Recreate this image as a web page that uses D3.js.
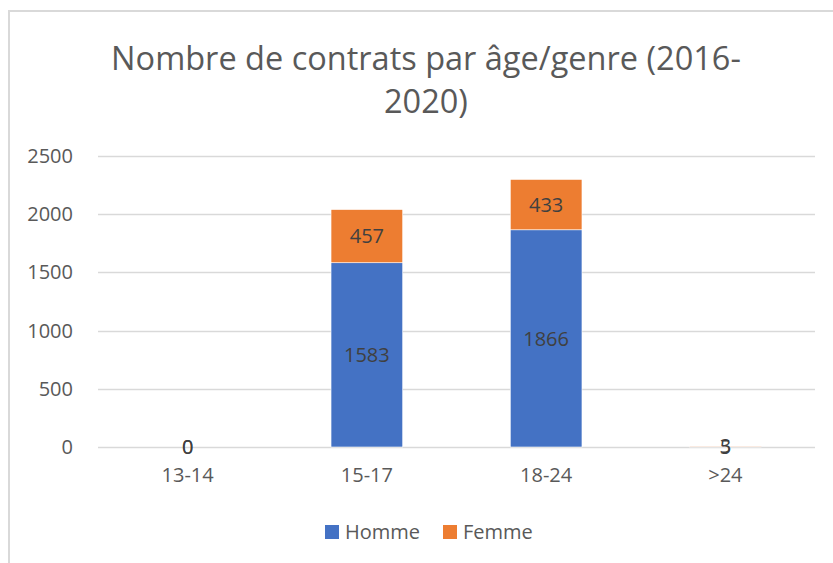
<!DOCTYPE html>
<html>
<head>
    <title>Nombre de contrats par âge/genre</title>
    <script src="https://cdnjs.cloudflare.com/ajax/libs/d3/7.8.5/d3.min.js"></script>
    <style>
        body { margin: 0; background: #fff; }
        svg { display: block; font-family: "Open Sans", sans-serif; }
    </style>
</head>
<body>
    <div id="chart"></div>

    <script>
        // Data
        const categories = ['13-14', '15-17', '18-24', '>24'];
        const homme = [0, 1583, 1866, 5];
        const femme = [0, 457, 433, 3];
        const yTicks = [0, 500, 1000, 1500, 2000, 2500];
        const seriesNames = ['Homme', 'Femme'];
        const colors = ['#4472C4', '#ED7D31'];

        const width = 833;
        const height = 563;
        const margin = {top: 156, right: 18, bottom: 116, left: 98};
        const fontSize = '20px';

        const svg = d3.select('#chart')
            .append('svg')
            .attr('width', width)
            .attr('height', height);

        // chart frame
        svg.append('rect')
            .attr('x', 9).attr('y', 11)
            .attr('width', width + 10).attr('height', height + 10)
            .attr('fill', '#fff')
            .attr('stroke', '#d9d9d9')
            .attr('stroke-width', 2);

        // title
        const title = svg.append('text')
            .attr('text-anchor', 'middle')
            .attr('fill', '#595959')
            .style('font-size', '32.5px');
        title.append('tspan').attr('x', 426).attr('y', 70).text('Nombre de contrats par âge/genre (2016-');
        title.append('tspan').attr('x', 426).attr('y', 113).text('2020)');

        const table = categories.map((c, i) => ({cat: c, Homme: homme[i], Femme: femme[i]}));
        const stacked = d3.stack().keys(seriesNames)(table);

        const x = d3.scaleBand()
            .domain(categories)
            .range([margin.left, width - margin.right])
            .paddingInner(0.6)
            .paddingOuter(0.3);

        const y = d3.scaleLinear()
            .domain([0, 2500])
            .range([height - margin.bottom, margin.top]);

        // gridlines
        svg.append('g')
            .selectAll('line')
            .data(yTicks)
            .join('line')
            .attr('x1', margin.left)
            .attr('x2', width - margin.right)
            .attr('y1', d => Math.round(y(d)) + 0.5)
            .attr('y2', d => Math.round(y(d)) + 0.5)
            .attr('stroke', '#d9d9d9')
            .attr('stroke-width', 1.5);

        // y axis labels
        const yAxis = svg.append('g')
            .attr('transform', `translate(${margin.left},0)`)
            .call(d3.axisLeft(y).tickValues(yTicks).tickFormat(d3.format('d')).tickSize(0).tickPadding(25));
        yAxis.select('.domain').remove();
        yAxis.selectAll('text')
            .attr('fill', '#595959')
            .style('font-family', '"Open Sans", sans-serif')
            .style('font-size', fontSize);

        // bars
        svg.append('g')
            .selectAll('g')
            .data(stacked)
            .join('g')
            .attr('fill', (d, i) => colors[i])
            .selectAll('rect')
            .data(d => d)
            .join('rect')
            .attr('x', d => x(d.data.cat))
            .attr('y', d => y(d[1]))
            .attr('width', x.bandwidth())
            .attr('height', d => y(d[0]) - y(d[1]))
            .attr('stroke', '#fff')
            .attr('stroke-width', 0.6);

        // data labels
        svg.append('g')
            .selectAll('g')
            .data(stacked)
            .join('g')
            .selectAll('text')
            .data(d => d.map(v => ({v, key: d.key})))
            .join('text')
            .attr('x', d => x(d.v.data.cat) + x.bandwidth() / 2)
            .attr('y', d => y((d.v[0] + d.v[1]) / 2))
            .attr('dy', '0.36em')
            .attr('text-anchor', 'middle')
            .attr('fill', '#404040')
            .style('font-size', fontSize)
            .text(d => d.v.data[d.key]);

        // x axis labels
        const xAxis = svg.append('g')
            .attr('transform', `translate(0,${y(0)})`)
            .call(d3.axisBottom(x).tickSize(0).tickPadding(21));
        xAxis.select('.domain').remove();
        xAxis.selectAll('text')
            .attr('fill', '#595959')
            .style('font-family', '"Open Sans", sans-serif')
            .style('font-size', fontSize);

        // legend
        const legendX = [325, 443];
        const legend = svg.append('g')
            .selectAll('g')
            .data(seriesNames)
            .join('g')
            .attr('transform', (d, i) => `translate(${legendX[i]},525)`);
        legend.append('rect')
            .attr('width', 14).attr('height', 14)
            .attr('fill', (d, i) => colors[i]);
        legend.append('text')
            .attr('x', 20).attr('y', 7)
            .attr('dy', '0.36em')
            .attr('fill', '#595959')
            .style('font-size', fontSize)
            .text(d => d);
    </script>
</body>
</html>
